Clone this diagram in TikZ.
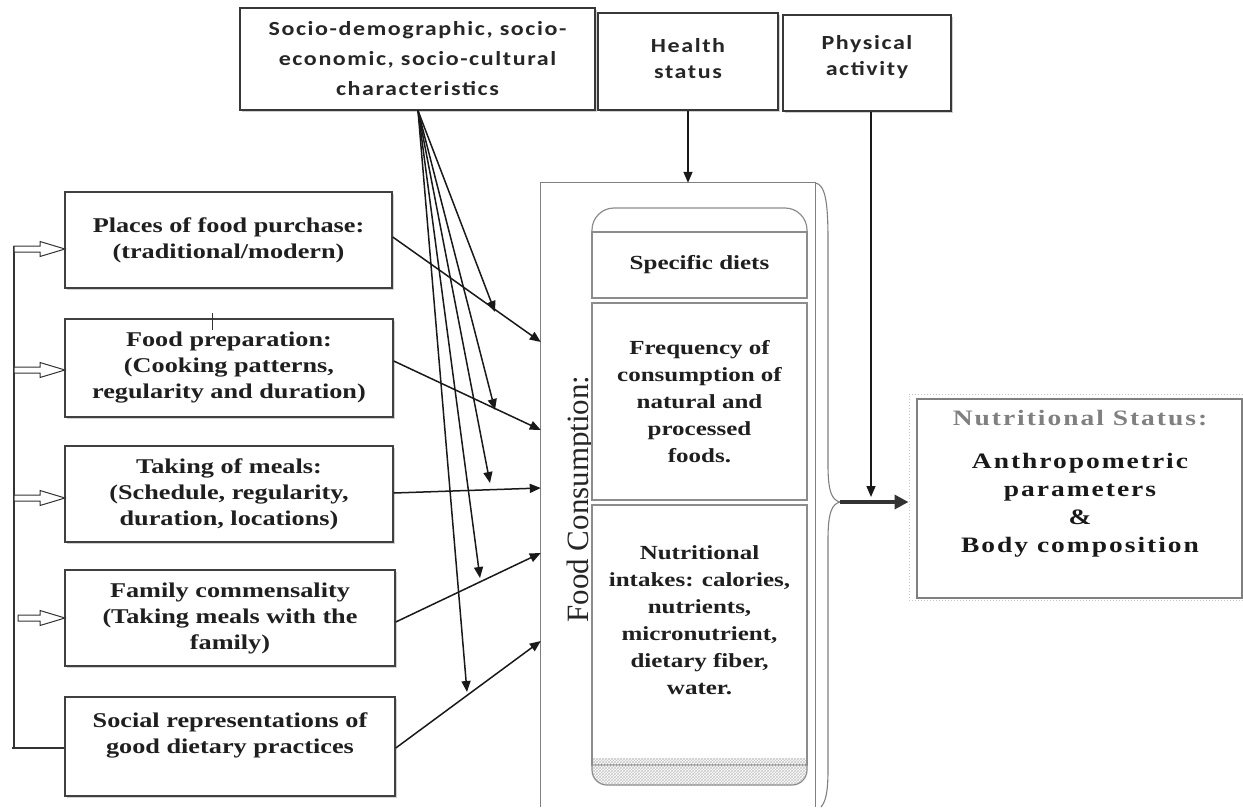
\documentclass[tikz,border=0pt]{standalone}
\usepackage{fontspec}
\setmainfont{Liberation Serif}[FakeStretch=1.25]
\newfontfamily\sansf{Carlito}[FakeStretch=1.2,LetterSpace=8]
\newfontfamily\fcfont{Liberation Serif}
\newfontfamily\nsfont{Liberation Serif}[FakeStretch=1.25,LetterSpace=9]
\usetikzlibrary{arrows.meta,patterns,shadows}
\newcommand{\hollowarr}[3]{%
  \draw[hollow] (#1,#3-3) -- (#2-25,#3-3) -- (#2-25,#3-7.5) -- (#2,#3) -- (#2-25,#3+7.5) -- (#2-25,#3+3) -- (#1,#3+3) -- cycle;}
\begin{document}
\begin{tikzpicture}[x=1pt,y=-1pt,
  shad/.style={drop shadow={shadow xshift=2pt,shadow yshift=-2pt,fill=black!18,opacity=1}},
  tbox/.style={draw=black!78, line width=1.3pt, fill=white, shad, text=black!85, align=center, inner sep=0pt},
  tfont/.style={font=\sansf\bfseries\fontsize{20}{30}\selectfont},
  tfont2/.style={font=\sansf\bfseries\fontsize{20}{26}\selectfont},
  lbox/.style={draw=black!75, line width=1.5pt, fill=white, shad, font=\bfseries\fontsize{21}{26}\selectfont, align=center, inner sep=0pt, text=black!88},
  ibox/.style={draw=black!45, line width=1.2pt, fill=white, font=\bfseries\fontsize{20}{27}\selectfont, align=center, inner sep=0pt, text=black!88},
  ibline/.style={draw=black!45, line width=1.2pt},
  fcline/.style={draw=black!50, line width=1.1pt},
  conn/.style={line width=1.5pt, draw=black!90, -{Triangle[length=11pt,width=9pt]}},
  hollow/.style={draw=black!80, line width=1pt, fill=white}
]
\useasboundingbox (0,0) rectangle (1243,807);

% top boxes
\node[tbox, tfont, minimum width=355pt, minimum height=102pt] (socio) at (417.5,59) {Socio-demographic, socio-\\economic, socio-cultural\\characteristics};
\node[tbox, tfont2, minimum width=180pt, minimum height=97pt] (health) at (688,61.5) {Health\\status\\[-19pt]};
\node[tbox, tfont2, minimum width=168pt, minimum height=96pt] (phys) at (867,63) {Physical\\activity\\[-11pt]};

% left boxes
\node[lbox, minimum width=327pt, minimum height=96pt] (places) at (228.5,240) {Places of food purchase:\\(traditional/modern)};
\node[lbox, minimum width=328pt, minimum height=98pt] (prep) at (229,368) {Food preparation:\\(Cooking patterns,\\regularity and duration)};
\node[lbox, minimum width=328pt, minimum height=96pt] (meals) at (229,494) {Taking of meals:\\(Schedule, regularity,\\duration, locations)};
\node[lbox, minimum width=330pt, minimum height=96pt] (family) at (230,618) {Family commensality\\(Taking meals with the\\family)};
\node[lbox, minimum width=330pt, minimum height=99pt] (social) at (230,746.5) {Social representations of\\good dietary practices\\\mbox{}};
\draw[black!80, line width=1pt] (212,313) -- (212,330);

% left bracket with hollow arrows
\draw[black!80, line width=1.3pt] (14,246) -- (14,748);
\draw[black!80, line width=1.3pt] (12,748) -- (social.west |- 0,748);
\hollowarr{14}{65}{249}
\hollowarr{14}{65}{370}
\hollowarr{14}{65}{498}
\hollowarr{18}{65}{618}

% food consumption column
\node[minimum width=274pt, minimum height=624pt, inner sep=0pt] (fc) at (678,495) {};
\draw[fcline] (fc.south west) -- (fc.north west) -- (fc.north east) -- (fc.south east);
\node[rotate=90, inner sep=0pt, font=\fcfont\fontsize{31}{31}\selectfont, text=black!85] (fctext) at (581,499) {Food Consumption:};
\draw[ibline, rounded corners=22pt] (592,232) -- (592,208) -- (807,208) -- (807,232);
\node[ibox, minimum width=215pt, minimum height=66pt] (spec) at (699.5,265) {Specific diets};
\node[ibox, minimum width=215pt, minimum height=197pt] (freq) at (699.5,401.5) {Frequency of\\consumption of\\natural and\\processed\\foods.};
\node[ibox, minimum width=215pt, minimum height=260pt] (nutr) at (699.5,635) {Nutritional\\intakes: calories,\\nutrients,\\micronutrient,\\dietary fiber,\\water.\\[2pt]};
\path[pattern=crosshatch, pattern color=black!22] (593,758) rectangle (806,766);
\draw[ibline, pattern=crosshatch, pattern color=black!22, rounded corners=15pt] (592,765) -- (592,785) -- (807,785) -- (807,765);

% brace
\coordinate (btip) at (840,502);
\draw[fcline] (fc.north east) .. controls (825,185) and (828,200) .. (828,240) -- (828,465) .. controls (828,492) and (832,500) .. (btip) .. controls (832,504) and (828,512) .. (828,540) -- (828,770) .. controls (828,795) and (825,802) .. (821,807);

% nutritional status
\node[draw=black!22, dotted, line width=1pt, minimum width=334pt, minimum height=206pt, inner sep=0pt] (ns) at (1076,497) {};
\node[draw=black!50, line width=1.5pt, minimum width=325pt, minimum height=199pt, inner sep=0pt] (nsin) at (1079.5,498.5) {};
\node[font=\nsfont\bfseries\fontsize{22}{28}\selectfont, align=center, text=black!90, inner sep=0pt] (nstext) at (1080,484) {\textcolor{black!50}{Nutritional Status:}\\[15pt] Anthropometric\\parameters\\\&\\Body composition};

% connectors
\draw[line width=4pt, draw=black!80, -{Triangle[length=14pt,width=14pt]}] (btip) -- (btip -| ns.west);
\coordinate (pa) at (871,497);
\draw[conn] ([xshift=4pt]phys.south) -- (pa);
\draw[conn] (health.south) -- (health.south |- fc.north);

\coordinate (t1) at (fc.west |- 0,342);
\coordinate (t2) at (fc.west |- 0,430);
\coordinate (t3) at (fc.west |- 0,488);
\coordinate (t4) at (fc.west |- 0,553);
\coordinate (t5) at (fc.west |- 0,641);
\draw[conn] ([yshift=3pt]places.east) -- (t1);
\draw[conn] ([yshift=7pt]prep.east) -- (t2);
\draw[conn] ([yshift=1pt]meals.east) -- (t3);
\draw[conn] ([yshift=-4pt]family.east) -- (t4);
\draw[conn] ([yshift=-1.5pt]social.east) -- (t5);

\coordinate (s1) at (495,312);
\coordinate (s2) at (495,410);
\coordinate (s3) at (490,483);
\coordinate (s4) at (480,578);
\coordinate (s5) at (467,692);
\foreach \s in {s1,s2,s3,s4,s5}
  \draw[conn] ([xshift=0.5pt]socio.south) -- (\s);
\end{tikzpicture}
\end{document}
